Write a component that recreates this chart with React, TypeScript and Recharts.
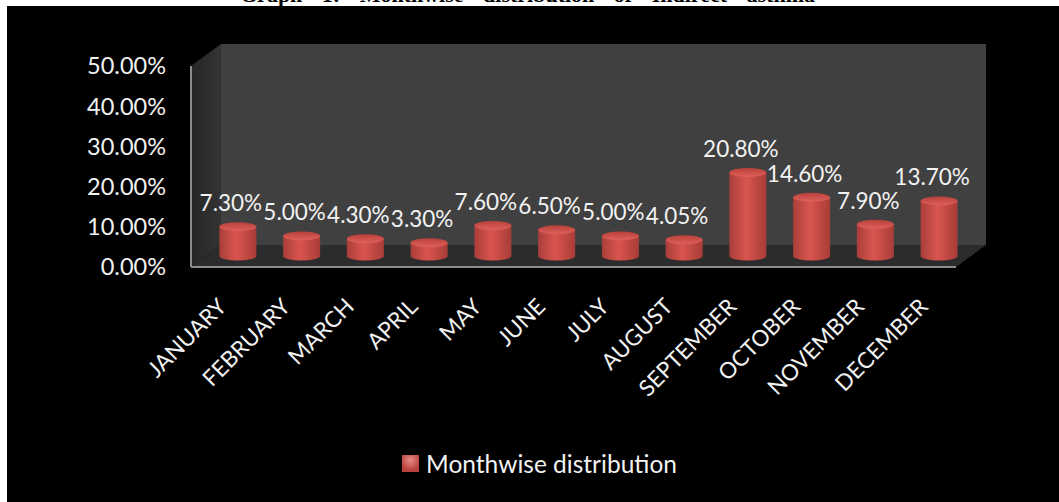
import { Bar, BarChart, LabelList, Legend, ReferenceArea, XAxis, YAxis } from "recharts";

const months = [
  "JANUARY",
  "FEBRUARY",
  "MARCH",
  "APRIL",
  "MAY",
  "JUNE",
  "JULY",
  "AUGUST",
  "SEPTEMBER",
  "OCTOBER",
  "NOVEMBER",
  "DECEMBER",
];
const shares = [7.3, 5.0, 4.3, 3.3, 7.6, 6.5, 5.0, 4.05, 20.8, 14.6, 7.9, 13.7];
const yTicks = [0, 10, 20, 30, 40, 50];

const seriesName = "Monthwise distribution";
const heading = "Graph 1: Monthwise distribution of Indirect asthma";

const data = months.map((month, i) => ({ month, share: shares[i] }));

// depth of the fake 3D box: how far the back wall sits from the front plane
const DEPTH_X = 30;
const DEPTH_Y = 22;
const FONT = "Lato, sans-serif";

// walls and floor, built from the rectangle the plot area gives us
function Room({ x, y, width, height }: any) {
  const right = x + width;
  const bottom = y + height;
  return (
    <g>
      <polygon
        points={`${x + DEPTH_X},${y - DEPTH_Y} ${right + DEPTH_X},${y - DEPTH_Y} ${right + DEPTH_X},${bottom - DEPTH_Y} ${x + DEPTH_X},${bottom - DEPTH_Y}`}
        fill="#404040"
      />
      <polygon
        points={`${x},${y} ${x + DEPTH_X},${y - DEPTH_Y} ${x + DEPTH_X},${bottom - DEPTH_Y} ${x},${bottom}`}
        fill="url(#sideWall)"
      />
      <polygon
        points={`${x},${bottom} ${x + DEPTH_X},${bottom - DEPTH_Y} ${right + DEPTH_X},${bottom - DEPTH_Y} ${right},${bottom}`}
        fill="#2c2c2c"
      />
      <line x1={x} y1={y} x2={x} y2={bottom} stroke="#8c8c8c" strokeWidth={2} />
      <line x1={x} y1={bottom} x2={right} y2={bottom} stroke="#8c8c8c" strokeWidth={2} />
    </g>
  );
}

// cylinder standing halfway into the box
function Cylinder({ x, y, width, height }: any) {
  const w = 37;
  const cx = x + width / 2 + DEPTH_X / 2;
  const left = cx - w / 2;
  const top = y - DEPTH_Y / 2;
  const ry = 4.5;
  return (
    <g>
      <path
        d={`M${left},${top} L${left},${top + height} A${w / 2},${ry} 0 0 0 ${left + w},${top + height} L${left + w},${top} Z`}
        fill="url(#cylinderSide)"
      />
      <ellipse cx={cx} cy={top} rx={w / 2} ry={ry} fill="url(#cylinderTop)" />
    </g>
  );
}

function ShareLabel({ x, y, width, value }: any) {
  return (
    <text
      x={x + width / 2 + 8}
      y={y - 35}
      fill="#f2f2f2"
      fontFamily={FONT}
      fontSize={22.5}
      textAnchor="middle"
      dominantBaseline="central"
    >
      {Number(value).toFixed(2)}%
    </text>
  );
}

function MonthTick({ x, y, payload }: any) {
  return (
    <text
      transform={`translate(${x + 5},${y + 33}) rotate(-45)`}
      fill="#f2f2f2"
      fontFamily={FONT}
      fontSize={22.4}
      textAnchor="end"
    >
      {payload.value}
    </text>
  );
}

function LegendRow() {
  return (
    <div
      style={{
        display: "flex",
        alignItems: "center",
        justifyContent: "center",
        paddingLeft: 116,
        color: "#f2f2f2",
        fontFamily: FONT,
        fontSize: 24.5,
      }}
    >
      <span
        style={{
          width: 17,
          height: 17,
          marginRight: 7,
          background: "radial-gradient(circle at 50% 30%, #e88a84, #b8413c 70%)",
        }}
      />
      {seriesName}
    </div>
  );
}

export default function App() {
  return (
    <div style={{ position: "absolute", left: 0, top: 0, width: 1059, height: 502, background: "#fff", overflow: "hidden" }}>
      <style>{"body{margin:0}"}</style>
      <div
        style={{
          position: "absolute",
          left: 240,
          top: -18,
          fontFamily: "'Liberation Serif', serif",
          fontWeight: 700,
          fontSize: 22,
          wordSpacing: 14,
          whiteSpace: "nowrap",
          color: "#000",
        }}
      >
        {heading}
      </div>
      <div style={{ position: "absolute", left: 7, top: 6, width: 1052, height: 496, background: "#000" }}>
        <BarChart
          width={1052}
          height={496}
          data={data}
          margin={{ top: 60, right: 103, bottom: 0, left: 0 }}
        >
          <defs>
            <linearGradient id="cylinderSide" x1="0" x2="1" y1="0" y2="0">
              <stop offset="0" stopColor="#a93e39" />
              <stop offset="0.45" stopColor="#d9554f" />
              <stop offset="1" stopColor="#a83c37" />
            </linearGradient>
            <linearGradient id="cylinderTop" x1="0" x2="0" y1="0" y2="1">
              <stop offset="0" stopColor="#b8403a" />
              <stop offset="1" stopColor="#e0605a" />
            </linearGradient>
            <linearGradient id="sideWall" x1="0" x2="1" y1="0" y2="0">
              <stop offset="0" stopColor="#262626" />
              <stop offset="1" stopColor="#333333" />
            </linearGradient>
          </defs>
          <XAxis
            dataKey="month"
            axisLine={false}
            tickLine={false}
            interval={0}
            height={206}
            tick={<MonthTick />}
          />
          <YAxis
            domain={[0, 50]}
            ticks={yTicks}
            width={184}
            axisLine={false}
            tickLine={false}
            tickMargin={19}
            tick={{ fill: "#f2f2f2", fontFamily: FONT, fontSize: 23.5 }}
            tickFormatter={(v: number) => `${v.toFixed(2)}%`}
          />
          <ReferenceArea y1={0} y2={50} shape={<Room />} ifOverflow="visible" />
          <Legend content={<LegendRow />} verticalAlign="bottom" wrapperStyle={{ bottom: 24 }} />
          <Bar dataKey="share" name={seriesName} shape={<Cylinder />} isAnimationActive={false}>
            <LabelList dataKey="share" content={<ShareLabel />} />
          </Bar>
        </BarChart>
      </div>
    </div>
  );
}
